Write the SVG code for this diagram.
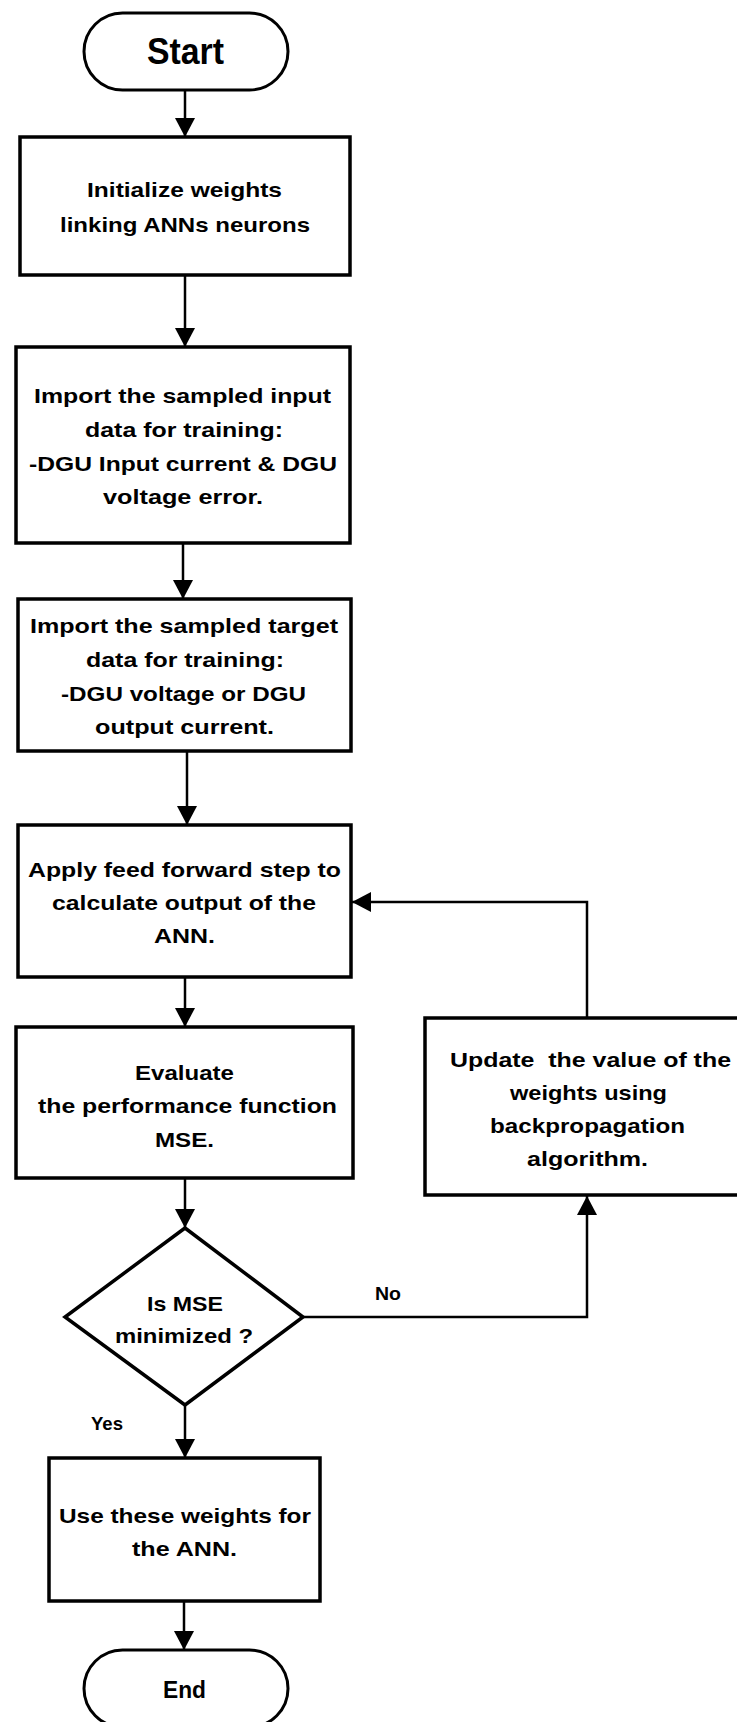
<svg xmlns="http://www.w3.org/2000/svg" width="737" height="1722" viewBox="0 0 737 1722">
<style>
.shape{fill:#fff;stroke:#000;stroke-width:3.5}
.term{fill:#fff;stroke:#000;stroke-width:3}
.conn{fill:none;stroke:#000;stroke-width:2.5}
text{font-family:"Liberation Sans",Arial,sans-serif;font-weight:bold;fill:#000}
.t{font-size:21px}
.lbl{font-size:19px}
</style>
<defs>
<marker id="ah" markerUnits="userSpaceOnUse" markerWidth="20" markerHeight="20" viewBox="0 0 20 20" refX="19" refY="10" orient="auto">
<path d="M0,0 L19,10 L0,20 Z" fill="#000"/>
</marker>
</defs>
<rect width="737" height="1722" fill="#fff"/>
<g id="connectors">
<path class="conn" d="M185,90 V137" marker-end="url(#ah)"/>
<path class="conn" d="M185,275 V347" marker-end="url(#ah)"/>
<path class="conn" d="M183,543 V599" marker-end="url(#ah)"/>
<path class="conn" d="M187,751 V825" marker-end="url(#ah)"/>
<path class="conn" d="M185,977 V1027" marker-end="url(#ah)"/>
<path class="conn" d="M185,1178 V1228" marker-end="url(#ah)"/>
<path class="conn" d="M185,1405 V1458" marker-end="url(#ah)"/>
<path class="conn" d="M184,1601 V1650" marker-end="url(#ah)"/>
<path class="conn" d="M303,1317 H587 V1196" marker-end="url(#ah)"/>
<path class="conn" d="M587,1018 V902 H352" marker-end="url(#ah)"/>
<text class="lbl" x="375" y="1300" textLength="26" lengthAdjust="spacingAndGlyphs">No</text>
<text class="lbl" x="91" y="1430" textLength="32" lengthAdjust="spacingAndGlyphs">Yes</text>
</g>
<g id="start">
<rect class="term" x="84" y="13" width="204" height="77" rx="38.5" ry="38.5"/>
<text x="147" y="64" font-size="36" textLength="77" lengthAdjust="spacingAndGlyphs">Start</text>
</g>
<g id="init">
<rect class="shape" x="20" y="137" width="330" height="138"/>
<text class="t" x="87" y="197" textLength="195" lengthAdjust="spacingAndGlyphs">Initialize weights</text>
<text class="t" x="60" y="232" textLength="250" lengthAdjust="spacingAndGlyphs">linking ANNs neurons</text>
</g>
<g id="import-input">
<rect class="shape" x="16" y="347" width="334" height="196"/>
<text class="t" x="34" y="403" textLength="297" lengthAdjust="spacingAndGlyphs">Import the sampled input</text>
<text class="t" x="85" y="437" textLength="198" lengthAdjust="spacingAndGlyphs">data for training:</text>
<text class="t" x="29" y="471" textLength="308" lengthAdjust="spacingAndGlyphs">-DGU Input current &amp; DGU</text>
<text class="t" x="103" y="504" textLength="160" lengthAdjust="spacingAndGlyphs">voltage error.</text>
</g>
<g id="import-target">
<rect class="shape" x="18" y="599" width="333" height="152"/>
<text class="t" x="30" y="633" textLength="308" lengthAdjust="spacingAndGlyphs">Import the sampled target</text>
<text class="t" x="86" y="667" textLength="198" lengthAdjust="spacingAndGlyphs">data for training:</text>
<text class="t" x="61" y="701" textLength="245" lengthAdjust="spacingAndGlyphs">-DGU voltage or DGU</text>
<text class="t" x="95" y="734" textLength="179" lengthAdjust="spacingAndGlyphs">output current.</text>
</g>
<g id="feed-forward">
<rect class="shape" x="18" y="825" width="333" height="152"/>
<text class="t" x="28" y="877" textLength="313" lengthAdjust="spacingAndGlyphs">Apply feed forward step to</text>
<text class="t" x="52" y="910" textLength="264" lengthAdjust="spacingAndGlyphs">calculate output of the</text>
<text class="t" x="154" y="943" textLength="61" lengthAdjust="spacingAndGlyphs">ANN.</text>
</g>
<g id="evaluate">
<rect class="shape" x="16" y="1027" width="337" height="151"/>
<text class="t" x="135" y="1080" textLength="99" lengthAdjust="spacingAndGlyphs">Evaluate</text>
<text class="t" x="38" y="1113" textLength="299" lengthAdjust="spacingAndGlyphs">the performance function</text>
<text class="t" x="155" y="1147" textLength="59" lengthAdjust="spacingAndGlyphs">MSE.</text>
</g>
<g id="update">
<rect class="shape" x="425" y="1018" width="324" height="177"/>
<text class="t" x="450" y="1067" textLength="281" lengthAdjust="spacingAndGlyphs" xml:space="preserve">Update  the value of the</text>
<text class="t" x="510" y="1100" textLength="157" lengthAdjust="spacingAndGlyphs">weights using</text>
<text class="t" x="490" y="1133" textLength="195" lengthAdjust="spacingAndGlyphs">backpropagation</text>
<text class="t" x="527" y="1166" textLength="121" lengthAdjust="spacingAndGlyphs">algorithm.</text>
</g>
<g id="decision">
<polygon class="shape" points="185,1228 303,1317 185,1405 65,1317"/>
<text class="t" x="147" y="1311" textLength="76" lengthAdjust="spacingAndGlyphs">Is MSE</text>
<text class="t" x="115" y="1343" textLength="138" lengthAdjust="spacingAndGlyphs">minimized ?</text>
</g>
<g id="use-weights">
<rect class="shape" x="49" y="1458" width="271" height="143"/>
<text class="t" x="59" y="1523" textLength="252" lengthAdjust="spacingAndGlyphs">Use these weights for</text>
<text class="t" x="132" y="1556" textLength="105" lengthAdjust="spacingAndGlyphs">the ANN.</text>
</g>
<g id="end">
<rect class="term" x="84" y="1650" width="204" height="77" rx="38.5" ry="38.5"/>
<text x="163" y="1698" font-size="24" textLength="43" lengthAdjust="spacingAndGlyphs">End</text>
</g>
</svg>
